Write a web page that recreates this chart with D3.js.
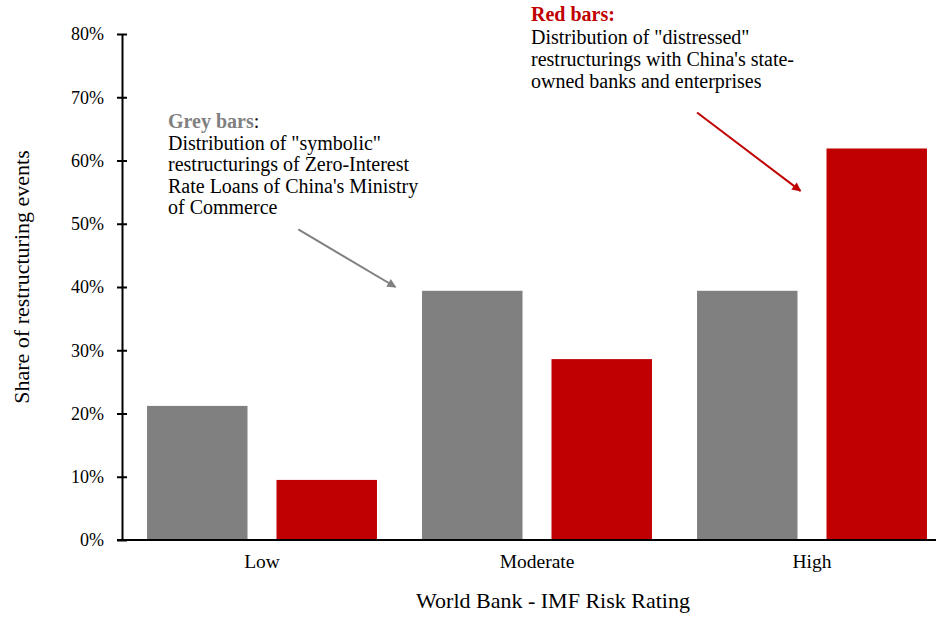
<!DOCTYPE html>
<html>
<head>
<meta charset="utf-8">
<script src="https://cdn.jsdelivr.net/npm/d3@7"></script>
<style>
  body { margin: 0; background: #fff; }
  svg { font-family: "Liberation Serif", "Times New Roman", serif; }
</style>
</head>
<body>
<div id="chart"></div>
<script>
// chart data
var categories = ["Low", "Moderate", "High"];
var seriesNames = ["grey", "red"];
var greyValues = [0.212, 0.394, 0.394];
var redValues = [0.095, 0.286, 0.619];
var yTicks = [0, 0.1, 0.2, 0.3, 0.4, 0.5, 0.6, 0.7, 0.8];

var svgWidth = 936;
var svgHeight = 620;

var colors = { grey: "#808080", red: "#C00000" };

var svg = d3.select("#chart")
  .append("svg")
  .attr("width", svgWidth)
  .attr("height", svgHeight);

// scales
var y = d3.scaleLinear()
  .domain([0, 0.8])
  .range([540, 34]);

var x0 = d3.scaleBand()
  .domain(categories)
  .range([124.5, 949.5]);

var x1 = d3.scaleBand()
  .domain(seriesNames)
  .range([0, x0.bandwidth()])
  .paddingInner(0.224)
  .paddingOuter(0.174);

// table built from the arrays
var rows = categories.map(function(c, i) {
  return { cat: c, grey: greyValues[i], red: redValues[i] };
});

// bars
var groups = svg.selectAll(".cat")
  .data(rows)
  .enter()
  .append("g")
  .attr("class", "cat")
  .attr("transform", d => `translate(${x0(d.cat)},0)`);

groups.selectAll("rect")
  .data(d => seriesNames.map(s => ({ key: s, value: d[s] })))
  .enter()
  .append("rect")
  .attr("x", d => x1(d.key))
  .attr("width", x1.bandwidth())
  .attr("y", d => y(d.value))
  .attr("height", d => y(0) - y(d.value))
  .attr("fill", d => colors[d.key]);

// y axis, ticks cross the line
var yAxis = svg.append("g")
  .attr("transform", "translate(122,0)")
  .call(d3.axisLeft(y)
    .tickValues(yTicks)
    .tickFormat(d3.format(".0%"))
    .tickSize(5)
    .tickSizeOuter(0)
    .tickPadding(13));

yAxis.select(".domain").attr("stroke", "#000").attr("stroke-width", 2);
yAxis.selectAll(".tick line").attr("x1", 5).attr("x2", -5).attr("stroke", "#000").attr("stroke-width", 2);
yAxis.selectAll(".tick text")
  .attr("font-family", "Liberation Serif, Times New Roman, serif")
  .attr("font-size", 18)
  .attr("fill", "#000");

// x axis line
svg.append("line")
  .attr("x1", 117)
  .attr("x2", svgWidth)
  .attr("y1", y(0))
  .attr("y2", y(0))
  .attr("stroke", "#000")
  .attr("stroke-width", 2);

// category labels
svg.selectAll(".catlabel")
  .data(categories)
  .enter()
  .append("text")
  .attr("class", "catlabel")
  .attr("x", d => x0(d) + x0.bandwidth() / 2)
  .attr("y", 568)
  .attr("text-anchor", "middle")
  .style("font-size", "19.5px")
  .text(d => d);

// axis titles
svg.append("text")
  .attr("x", 553)
  .attr("y", 608)
  .attr("text-anchor", "middle")
  .style("font-size", "22px")
  .text("World Bank - IMF Risk Rating");

svg.append("text")
  .attr("transform", "translate(29,277) rotate(-90)")
  .attr("text-anchor", "middle")
  .style("font-size", "22px")
  .text("Share of restructuring events");

// arrow markers
var defs = svg.append("defs");
["grey", "red"].forEach(function(k) {
  defs.append("marker")
    .attr("id", "arrow-" + k)
    .attr("markerUnits", "userSpaceOnUse")
    .attr("viewBox", "0 0 10 10")
    .attr("refX", 9)
    .attr("refY", 5)
    .attr("markerWidth", 11)
    .attr("markerHeight", 9)
    .attr("orient", "auto")
    .append("path")
    .attr("d", "M0,0 L10,5 L0,10 Z")
    .attr("fill", colors[k]);
});

// grey annotation
var greyNote = svg.append("text")
  .style("font-size", "20px");
var g1 = greyNote.append("tspan").attr("x", 168).attr("y", 128);
g1.append("tspan").attr("fill", colors.grey).attr("font-weight", "bold").text("Grey bars");
g1.append("tspan").text(":");
["Distribution of \"symbolic\"",
 "restructurings of Zero-Interest",
 "Rate Loans of China's Ministry",
 "of Commerce"].forEach(function(t, i) {
  greyNote.append("tspan").attr("x", 168).attr("y", 150 + i * 21.3).text(t);
});

svg.append("line")
  .attr("x1", x0("Low") + x0.bandwidth() * 0.632)
  .attr("y1", y(0.491))
  .attr("x2", x0("Moderate") - 4)
  .attr("y2", y(0.4))
  .attr("stroke", colors.grey)
  .attr("stroke-width", 2)
  .attr("marker-end", "url(#arrow-grey)");

// red annotation
var redNote = svg.append("text")
  .style("font-size", "20px");
redNote.append("tspan")
  .attr("x", 531).attr("y", 21)
  .attr("fill", colors.red).attr("font-weight", "bold")
  .text("Red bars:");
["Distribution of \"distressed\"",
 "restructurings with China's state-",
 "owned banks and enterprises"].forEach(function(t, i) {
  redNote.append("tspan").attr("x", 531).attr("y", 44 + i * 22).text(t);
});

svg.append("line")
  .attr("x1", x0("High") + x0.bandwidth() * 0.082)
  .attr("y1", y(0.676))
  .attr("x2", x0("High") + x1("red") - 26)
  .attr("y2", y(0.552))
  .attr("stroke", colors.red)
  .attr("stroke-width", 2)
  .attr("marker-end", "url(#arrow-red)");
</script>
</body>
</html>
